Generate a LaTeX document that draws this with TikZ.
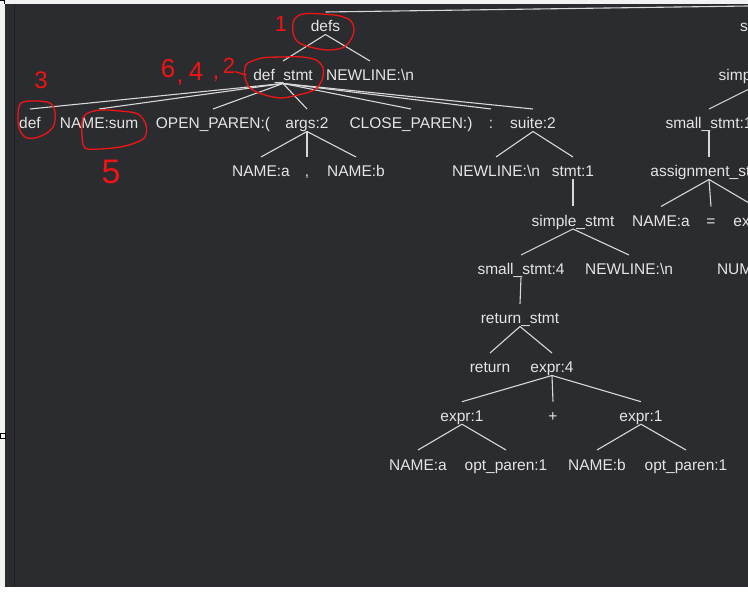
\documentclass[tikz,border=0pt]{standalone}
\usepackage{fontspec}
\setmainfont{Liberation Sans}
\definecolor{panel}{HTML}{2B2C30}
\definecolor{framec}{HTML}{F2F2F2}
\definecolor{txt}{HTML}{E4E4E4}
\definecolor{edgec}{HTML}{D8D8D8}
\definecolor{ink}{HTML}{F01414}
\definecolor{seam}{HTML}{1E1F22}
\begin{document}
\begin{tikzpicture}[x=1pt,y=-1pt,
  tn/.style={text=txt, font=\fontsize{15.5}{18}\selectfont, inner sep=0pt, outer sep=0pt,
             text height=20pt, text depth=2.5pt, anchor=base},
  tw/.style={tn, anchor=base west},
  edge/.style={draw=edgec, line width=1.1pt},
  annot/.style={draw=ink, line width=1.3pt, line join=round, line cap=round},
  anum/.style={text=ink, inner sep=0pt, outer sep=0pt}]
\useasboundingbox (0,0) rectangle (748,596);
% window frame
\fill[framec] (0,0) rectangle (748,596);
\fill[white] (0,587) rectangle (748,596);
\fill[panel] (5,4) rectangle (748,587);
\draw[seam, line width=1pt] (14.5,4) -- (14.5,587);
\draw[black, line width=1pt] (0,433.5) rectangle (5,438.5);
\draw[black, line width=0.8pt] (0,0.4) -- (4.6,0.4) -- (4.6,4);

\begin{scope}
\clip (5,4) rectangle (748,587);
% row 1
\coordinate (root) at (2158,-14);
\node[tn] (defs) at (325.5,32) {defs};
\node[tw] (stmtR) at (740,32) {stmt:1};
% row 2
\node[tn] (defstmt) at (283,81) {def\_stmt};
\node[tn] (nl1) at (370,81) {NEWLINE:\textbackslash n};
\node[tn] (simpR) at (760,81) {simple\_stmt};
% row 3
\node[tn] (def) at (30,129) {def};
\node[tn] (namesum) at (99,129) {NAME:sum};
\node[tn] (openp) at (213,129) {OPEN\_PAREN:(};
\node[tn] (args) at (307,129) {args:2};
\node[tn] (closep) at (411,129) {CLOSE\_PAREN:)};
\node[tn] (colon) at (491,129) {:};
\node[tn] (suite) at (533,129) {suite:2};
\node[tn] (smallR) at (709,129) {small\_stmt:1};
% row 4
\node[tn] (namea) at (261,177) {NAME:a};
\node[tn] (comma) at (307,177) {,};
\node[tn] (nameb) at (356,177) {NAME:b};
\node[tn] (nl2) at (496,177) {NEWLINE:\textbackslash n};
\node[tn] (stmt1) at (573,177) {stmt:1};
\node[tn] (assignR) at (709,177) {assignment\_stmt};
% row 5
\node[tn] (simple) at (573,226.5) {simple\_stmt};
\node[tn] (nameaR) at (661,226.5) {NAME:a};
\node[tn] (eq) at (711,226.5) {=};
\node[tn] (exprR) at (755,226.5) {expr:1};
% row 6
\node[tn] (small4) at (521,275) {small\_stmt:4};
\node[tn] (nl3) at (629,275) {NEWLINE:\textbackslash n};
\node[tw] (numR) at (717,275) {NUMBER:1};
% row 7
\node[tn] (retstmt) at (520,324) {return\_stmt};
% row 8
\node[tn] (ret) at (490,373) {return};
\node[tn] (expr4) at (552,373) {expr:4};
% row 9
\node[tn] (exprA) at (462,421.7) {expr:1};
\node[tn] (plus) at (553,421.7) {+};
\node[tn] (exprB) at (641,421.7) {expr:1};
% row 10
\node[tn] (nameA2) at (418,470) {NAME:a};
\node[tn] (optA) at (506,470) {opt\_paren:1};
\node[tn] (nameB2) at (597,470) {NAME:b};
\node[tn] (optB) at (686,470) {opt\_paren:1};

% edges
\draw[edge] (root) -- (defs.north);
\foreach \c in {defstmt,nl1} \draw[edge] (defs.south) -- (\c.north);
\foreach \c in {def,namesum,openp,args,closep,colon,suite} \draw[edge] (defstmt.south) -- (\c.north);
\foreach \c in {namea,comma,nameb} \draw[edge] (args.south) -- (\c.north);
\foreach \c in {nl2,stmt1} \draw[edge] (suite.south) -- (\c.north);
\draw[edge] (stmt1.south) -- (simple.north);
\foreach \c in {small4,nl3} \draw[edge] (simple.south) -- (\c.north);
\draw[edge] (small4.south) -- (retstmt.north);
\foreach \c in {ret,expr4} \draw[edge] (retstmt.south) -- (\c.north);
\foreach \c in {exprA,plus,exprB} \draw[edge] (expr4.south) -- (\c.north);
\foreach \c in {nameA2,optA} \draw[edge] (exprA.south) -- (\c.north);
\foreach \c in {nameB2,optB} \draw[edge] (exprB.south) -- (\c.north);
\draw[edge] (simpR.south) -- (smallR.north);
\draw[edge] (smallR.south) -- (assignR.north);
\foreach \c in {nameaR,eq,exprR} \draw[edge] (assignR.south) -- (\c.north);
\end{scope}

% red hand annotations
\draw[annot] plot[smooth cycle, tension=0.55] coordinates
  {(294,20) (303,14) (322,14) (340,16) (351,21) (354,31) (350,41) (342,48) (327,50) (310,47) (298,42) (293,33)};
\draw[annot] plot[smooth cycle, tension=0.55] coordinates
  {(248,63) (262,58) (282,57) (302,57) (316,60) (323,68) (322,80) (314,90) (298,95) (280,98) (262,94) (250,88) (245,78) (245,68)};
\draw[annot] plot[smooth cycle, tension=0.55] coordinates
  {(21,103) (35,101) (50,103) (55,112) (54,125) (47,133) (35,138) (25,137) (19,128) (18,115)};
\draw[annot] plot[smooth cycle, tension=0.55] coordinates
  {(86,114) (100,110) (120,111) (138,114) (146,125) (145,137) (135,143) (120,147) (100,149) (85,148) (82,135) (82,122)};
\node[anum, font=\fontsize{22}{24}\selectfont] (n1) at (281,24) {1};
\node[anum, font=\fontsize{26}{28}\selectfont] (n6) at (168,69) {6};
\node[anum, font=\fontsize{24}{26}\selectfont] (c1) at (180,83) {,};
\node[anum, font=\fontsize{26}{28}\selectfont] (n4) at (196,72) {4};
\node[anum, font=\fontsize{24}{26}\selectfont] (c2) at (216,79) {,};
\node[anum, font=\fontsize{22}{24}\selectfont] (n2) at (229,66) {2};
\coordinate (tailend) at (246,75);
\draw[annot] (n2.south east) ++(0,-2) -- (tailend);
\node[anum, font=\fontsize{24}{26}\selectfont] (n3) at (41,80) {3};
\node[anum, font=\fontsize{34}{36}\selectfont] (n5) at (111,172) {5};
\end{tikzpicture}
\end{document}
